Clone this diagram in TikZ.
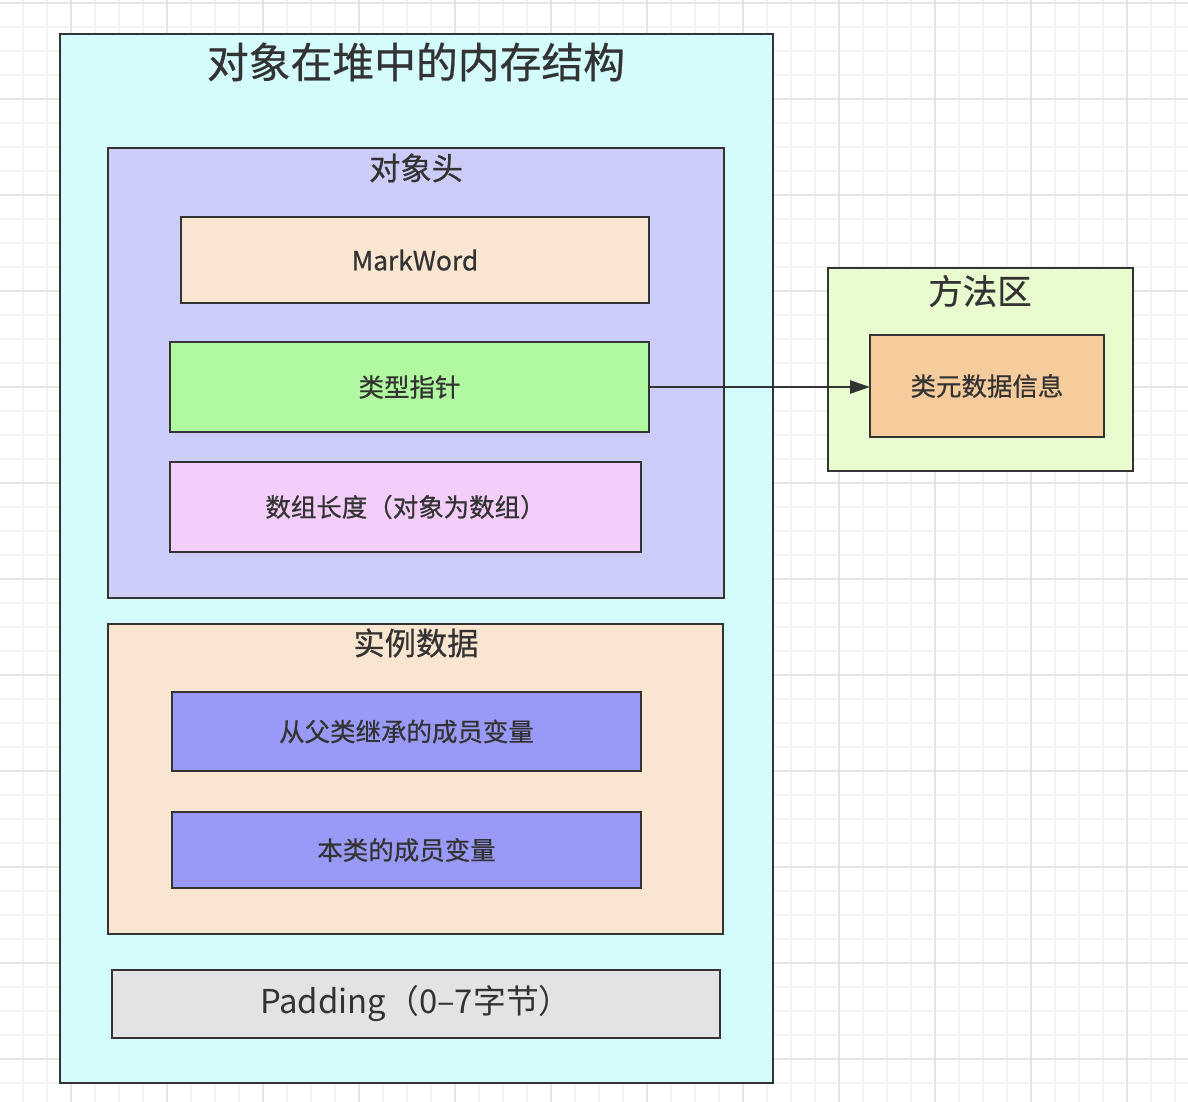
\documentclass[tikz,border=0pt]{standalone}
\usepackage{fontspec}
\setmainfont{Noto Sans CJK SC}[FakeBold=0.6]
\newfontfamily\plainfont{Noto Sans CJK SC}
\usetikzlibrary{arrows.meta,positioning}
\definecolor{ink}{HTML}{333333}
\definecolor{gridminor}{HTML}{F3F3F3}
\definecolor{gridmajor}{HTML}{E4E4E4}
\definecolor{heapfill}{HTML}{D4FCFC}
\definecolor{headerfill}{HTML}{CCCCF9}
\definecolor{bisque}{HTML}{FAE5D0}
\definecolor{klassfill}{HTML}{B0F9A0}
\definecolor{arrfill}{HTML}{F4CEFA}
\definecolor{varfill}{HTML}{9999F7}
\definecolor{padfill}{HTML}{E3E3E3}
\definecolor{methodfill}{HTML}{E8FCD0}
\definecolor{metafill}{HTML}{F7CC9C}

\begin{document}
\begin{tikzpicture}[
    x=0.02cm, y=-0.02cm,
    box/.style={rectangle, draw=ink, line width=1.4pt, inner sep=0pt, outer sep=0pt, text=ink},
    field/.style={box, font=\fontsize{14.5}{17}\selectfont},
    heading/.style={text=ink, inner sep=0pt, font=\fontsize{17.8}{21}\selectfont},
    arrow/.style={line width=1.5pt, draw=ink, -{Triangle[length=0.4cm,width=0.26cm]}}
]
\useasboundingbox (0,0) rectangle (1188,1102);

% background grid
\foreach \gx in {-1,23,...,1188} \draw[gridminor, line width=0.6pt] (\gx,0) -- (\gx,1102);
\foreach \gy in {3,27,...,1102} \draw[gridminor, line width=0.6pt] (0,\gy) -- (1188,\gy);
\foreach \gx in {71,167,...,1188} \draw[gridmajor, line width=0.6pt] (\gx,0) -- (\gx,1102);
\foreach \gy in {3,99,...,1102} \draw[gridmajor, line width=0.6pt] (0,\gy) -- (1188,\gy);

% heap object
\node[box, fill=heapfill, minimum width=14.26cm, minimum height=20.98cm] (heap) at (416.5,558.5) {};
\node[heading, font=\fontsize{23.8}{27}\selectfont] (heaptitle) at (416,62) {对象在堆中的内存结构};

% object header
\node[box, fill=headerfill, minimum width=12.32cm, minimum height=9cm] (header) at (416,373) {};
\node[heading] (headertitle) at (416,168) {对象头};
\node[field, fill=bisque, minimum width=9.36cm, minimum height=1.72cm, font=\fontsize{15}{18}\selectfont] (markword) at (415,260) {MarkWord};
\node[field, fill=klassfill, minimum width=9.58cm, minimum height=1.8cm] (klass) at (409.5,387) {类型指针};
\node[field, fill=arrfill, minimum width=9.42cm, minimum height=1.8cm] (arrlen) at (405.5,507) {数组长度（对象为数组）};

% instance data
\node[box, fill=bisque, minimum width=12.3cm, minimum height=6.2cm] (instance) at (415.5,779) {};
\node[heading] (instancetitle) at (416,643) {实例数据};
\node[field, fill=varfill, minimum width=9.38cm, minimum height=1.58cm] (parentvar) at (406.5,731.5) {从父类继承的成员变量};
\node[field, fill=varfill, minimum width=9.38cm, minimum height=1.52cm] (ownvar) at (406.5,850) {本类的成员变量};

% padding
\node[field, fill=padfill, minimum width=12.16cm, minimum height=1.36cm, font=\plainfont\fontsize{18.7}{22}\selectfont] (padding) at (416,1004) {Padding（0–7字节）};

% method area
\node[box, fill=methodfill, minimum width=6.1cm, minimum height=4.06cm] (method) at (980.5,369.5) {};
\node[heading, font=\fontsize{19.6}{23}\selectfont] (methodtitle) at (980,291) {方法区};
\node[field, fill=metafill, minimum width=4.68cm, minimum height=2.04cm] (meta) at (987,386) {类元数据信息};

% klass pointer
\draw[arrow] (klass.east) -- (klass.east -| meta.west);

\end{tikzpicture}
\end{document}
